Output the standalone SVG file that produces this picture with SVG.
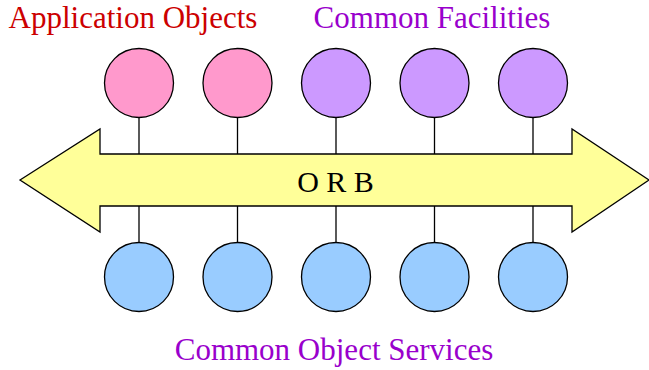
<svg xmlns="http://www.w3.org/2000/svg" width="649" height="370" viewBox="0 0 649 370">
<style>
.c{stroke:#000;stroke-width:1.3}
.app{fill:#ff99cc}
.fac{fill:#cc99ff}
.svc{fill:#99ccff}
.red{fill:#cc0000}
.pur{fill:#9900cc}
.t{font-family:'Liberation Serif','Times New Roman',Times,serif}
</style>
<rect width="649" height="370" fill="#fff"/>
<g id="connectors" stroke="#000" stroke-width="1.3">
<line x1="139" y1="118" x2="139" y2="242"/>
<line x1="237.5" y1="118" x2="237.5" y2="242"/>
<line x1="336" y1="118" x2="336" y2="242"/>
<line x1="434.5" y1="118" x2="434.5" y2="242"/>
<line x1="533" y1="118" x2="533" y2="242"/>
</g>
<g id="orb">
<polygon points="20,180 100,129 100,154 572,154 572,129 649,180 572,232 572,206 100,206 100,232" fill="#ffff99" stroke="#000" stroke-width="1.3"/>
<text x="335.5" y="192" class="t" font-size="30" text-anchor="middle" fill="#000">O R B</text>
</g>
<g id="app1"><circle class="c app" cx="139" cy="83" r="34.5"/></g>
<g id="app2"><circle class="c app" cx="237.5" cy="83" r="34.5"/></g>
<g id="fac1"><circle class="c fac" cx="336" cy="83" r="34.5"/></g>
<g id="fac2"><circle class="c fac" cx="434.5" cy="83" r="34.5"/></g>
<g id="fac3"><circle class="c fac" cx="533" cy="83" r="34.5"/></g>
<g id="svc1"><circle class="c svc" cx="139" cy="277" r="34.5"/></g>
<g id="svc2"><circle class="c svc" cx="237.5" cy="277" r="34.5"/></g>
<g id="svc3"><circle class="c svc" cx="336" cy="277" r="34.5"/></g>
<g id="svc4"><circle class="c svc" cx="434.5" cy="277" r="34.5"/></g>
<g id="svc5"><circle class="c svc" cx="533" cy="277" r="34.5"/></g>
<g id="labels" font-size="31" text-anchor="middle">
<text x="133" y="28" class="t red">Application Objects</text>
<text x="432" y="28" class="t pur">Common Facilities</text>
<text x="334" y="360" class="t pur">Common Object Services</text>
</g>
</svg>
